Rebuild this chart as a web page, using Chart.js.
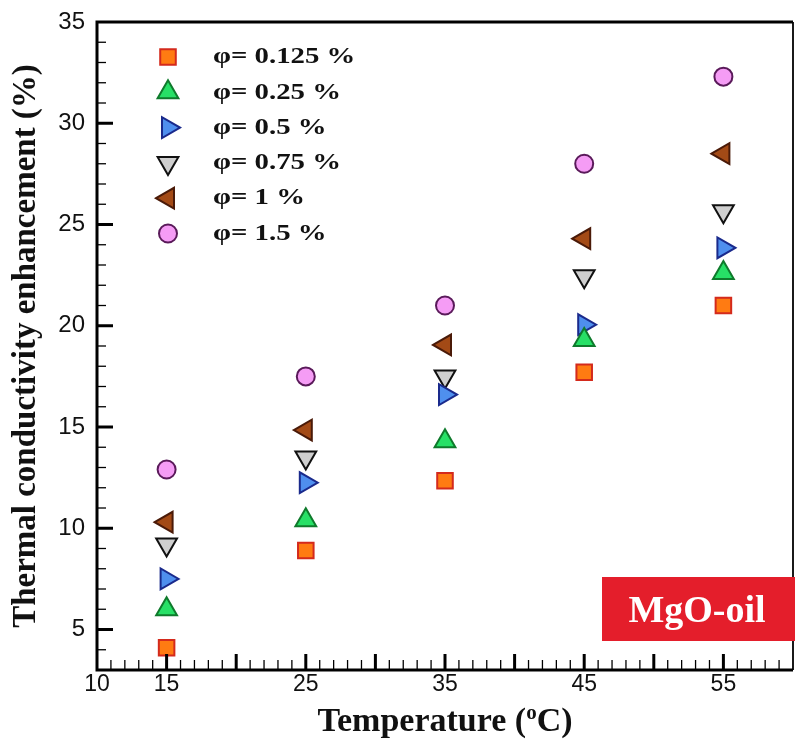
<!DOCTYPE html>
<html>
<head>
<meta charset="utf-8">
<script src="https://cdn.jsdelivr.net/npm/chart.js@4.4.1/dist/chart.umd.min.js"></script>
<style>
  body { margin: 0; background: #fff; }
  canvas { display: block; }
</style>
</head>
<body>
<canvas id="enhancement-chart" width="807" height="744"></canvas>
<script>
// Thermal conductivity enhancement of MgO-oil vs temperature
const temperatures = [15, 25, 35, 45, 55];

const phi0125 = [4.1, 8.9, 12.35, 17.7, 21.0];
const phi025 = [6.0, 10.4, 14.3, 19.3, 22.6];
const phi05 = [7.5, 12.25, 16.6, 20.05, 23.85];
const phi075 = [9.2, 13.5, 17.5, 22.45, 25.65];
const phi1 = [10.3, 14.85, 19.05, 24.3, 28.5];
const phi15 = [12.9, 17.5, 21.0, 28.0, 32.3];

const seriesLabels = ["φ= 0.125 %", "φ= 0.25 %", "φ= 0.5 %", "φ= 0.75 %", "φ= 1 %", "φ= 1.5 %"];

const xTickLabels = [10, 15, 25, 35, 45, 55];
const yTickLabels = [5, 10, 15, 20, 25, 30, 35];

const serif = "'Liberation Serif', 'Times New Roman', serif";
const sans = "'Liberation Sans', Arial, sans-serif";

function toPoints(values) {
	return temperatures.map((t, i) => ({ x: t, y: values[i] }));
}

function series(label, values, style, rotation, radius, fill, border) {
	return {
		label,
		data: toPoints(values),
		showLine: false,
		pointStyle: style,
		rotation,
		pointRadius: radius,
		pointHoverRadius: radius,
		pointBorderWidth: 2,
		backgroundColor: fill,
		borderColor: border,
	};
}

const datasets = [
	series(seriesLabels[0], phi0125, "rect", 0, 11, "#ff7b12", "#d42a1c"),
	series(seriesLabels[1], phi025, "triangle", 0, 12, "#27e066", "#0f7a2c"),
	series(seriesLabels[2], phi05, "triangle", 90, 12, "#4f8fee", "#1a2a8c"),
	series(seriesLabels[3], phi075, "triangle", 180, 12, "#cfcfcf", "#111111"),
	series(seriesLabels[4], phi1, "triangle", 270, 12, "#a34a16", "#4a1a08"),
	series(seriesLabels[5], phi15, "circle", 0, 9, "#f59cf5", "#5a1a5a"),
];

// frame with inward major/minor ticks, drawn over the markers
const framePlugin = {
	id: "frame",
	afterDatasetsDraw(chart) {
		const { ctx, chartArea: a, scales } = chart;
		const xs = scales.x;
		const ys = scales.y;
		ctx.save();
		ctx.strokeStyle = "#000";
		ctx.lineCap = "butt";

		for (let v = 4; v < 35; v++) {
			const y = ys.getPixelForValue(v);
			const major = v % 5 === 0;
			ctx.lineWidth = major ? 3 : 1.3;
			ctx.beginPath();
			ctx.moveTo(a.left, y);
			ctx.lineTo(a.left + (major ? 16 : 9), y);
			ctx.stroke();
		}
		for (let v = 11; v < 60; v++) {
			const x = xs.getPixelForValue(v);
			const major = v % 5 === 0;
			ctx.lineWidth = major ? 3 : 1.3;
			ctx.beginPath();
			ctx.moveTo(x, a.bottom);
			ctx.lineTo(x, a.bottom - (major ? 16 : 10));
			ctx.stroke();
		}

		ctx.lineWidth = 3;
		ctx.beginPath();
		ctx.moveTo(a.left, a.top);
		ctx.lineTo(a.left, a.bottom);
		ctx.lineTo(a.right, a.bottom);
		ctx.moveTo(a.left - 1.5, a.top);
		ctx.lineTo(a.right, a.top);
		ctx.stroke();
		ctx.lineWidth = 1.8;
		ctx.beginPath();
		ctx.moveTo(a.right, a.top);
		ctx.lineTo(a.right, a.bottom);
		ctx.stroke();
		ctx.restore();
	},
};

// legend, MgO-oil tag and x title with superscript
const annotatePlugin = {
	id: "annotate",
	afterDraw(chart) {
		const { ctx } = chart;
		ctx.save();

		chart.data.datasets.forEach((ds, i) => {
			const y = 57 + i * 35.3;
			ctx.fillStyle = ds.backgroundColor;
			ctx.strokeStyle = ds.borderColor;
			ctx.lineWidth = ds.pointBorderWidth;
			Chart.helpers.drawPoint(ctx, {
				pointStyle: ds.pointStyle,
				rotation: ds.rotation,
				radius: ds.pointRadius,
				borderWidth: ds.pointBorderWidth,
			}, 168, y);

			// legend labels are set a little wide
			ctx.save();
			ctx.translate(213, y);
			ctx.scale(1.2, 1);
			ctx.fillStyle = "#111";
			ctx.font = `bold 24px ${serif}`;
			ctx.textBaseline = "middle";
			ctx.textAlign = "left";
			ctx.fillText(ds.label, 0, 0);
			ctx.restore();
		});

		ctx.fillStyle = "#e41e2b";
		ctx.fillRect(602, 577, 193, 64);
		ctx.fillStyle = "#fff";
		ctx.font = `bold 38px ${serif}`;
		ctx.textAlign = "center";
		ctx.textBaseline = "alphabetic";
		ctx.fillText("MgO-oil", 697, 622);

		// Temperature (ºC)
		const big = `bold 34px ${serif}`;
		const small = `bold 21px ${serif}`;
		ctx.fillStyle = "#111";
		ctx.textAlign = "left";
		ctx.font = big;
		const w1 = ctx.measureText("Temperature (").width;
		const w3 = ctx.measureText("C)").width;
		ctx.font = small;
		const w2 = ctx.measureText("o").width;
		const cx = (chart.chartArea.left + chart.chartArea.right) / 2;
		let x = cx - (w1 + w2 + w3) / 2;
		const base = 731;
		ctx.font = big;
		ctx.fillText("Temperature (", x, base);
		x += w1;
		ctx.font = small;
		ctx.fillText("o", x, base - 12);
		x += w2;
		ctx.font = big;
		ctx.fillText("C)", x, base);
		ctx.restore();
	},
};

new Chart(document.getElementById("enhancement-chart"), {
	type: "scatter",
	data: { datasets },
	options: {
		responsive: false,
		animation: false,
		events: [],
		layout: { padding: { top: 22, right: 2, left: 0, bottom: 0 } },
		plugins: {
			legend: { display: false },
			tooltip: { enabled: false },
		},
		scales: {
			x: {
				type: "linear",
				min: 10,
				max: 60,
				afterBuildTicks: (axis) => {
					axis.ticks = xTickLabels.map((v) => ({ value: v }));
				},
				afterFit: (axis) => {
					axis.height = 74;
				},
				ticks: {
					color: "#111",
					padding: -7,
					maxRotation: 0,
					font: { family: sans, size: 23 },
				},
				grid: { display: false },
				border: { display: false },
			},
			y: {
				type: "linear",
				min: 3,
				max: 35,
				afterBuildTicks: (axis) => {
					axis.ticks = yTickLabels.map((v) => ({ value: v }));
				},
				afterFit: (axis) => {
					axis.width = 97;
				},
				ticks: {
					color: "#111",
					padding: 4,
					font: { family: sans, size: 24 },
				},
				grid: { display: false },
				border: { display: false },
				title: {
					display: true,
					text: "Thermal conductivity enhancement (%)",
					color: "#111",
					padding: { top: 7, bottom: 0 },
					font: { family: serif, size: 33, weight: "bold" },
				},
			},
		},
	},
	plugins: [framePlugin, annotatePlugin],
});
</script>
</body>
</html>
